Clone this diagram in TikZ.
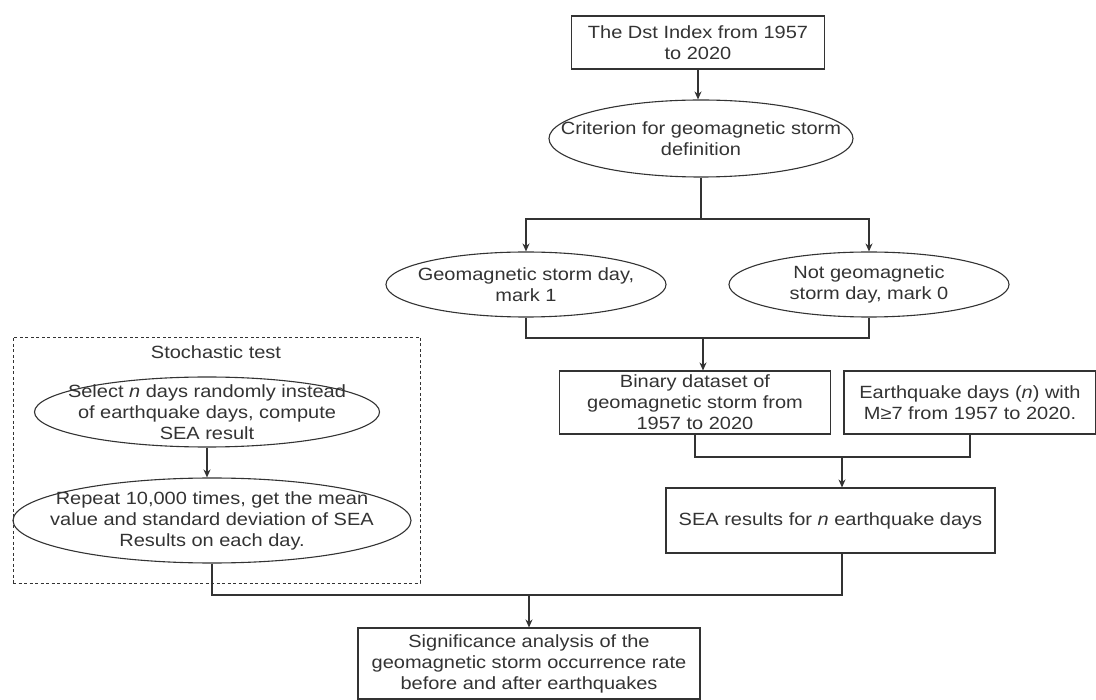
\documentclass[tikz,border=0pt]{standalone}
\usepackage{fontspec}
\setmainfont{Liberation Sans}[FakeStretch=1.13]
\usetikzlibrary{shapes.geometric,arrows.meta}
\definecolor{ink}{HTML}{333333}
\begin{document}
\begin{tikzpicture}[x=1pt,y=-1pt,
  font=\fontsize{17.7}{21}\selectfont,
  box/.style={draw=ink, line width=1.1pt, rectangle, align=center, text=ink, inner sep=0pt},
  ell/.style={draw=ink, line width=1.1pt, ellipse, inner sep=0pt},
  txt/.style={align=center, text=ink, inner sep=0pt},
  link/.style={draw=ink, line width=1.1pt},
  arr/.style={link, -{Stealth[length=8pt,width=7pt]}}]
\useasboundingbox (0,0) rectangle (1096,700);

% top
\node[box, minimum width=253pt, minimum height=53pt] (dst) at (698,42.5) {The Dst Index from 1957\\to 2020};
\node[ell, minimum width=304pt, minimum height=77pt] (crit) at (701,138.5) {};
\node[txt] (critt) at (crit.center) {Criterion for geomagnetic storm\\definition};

\node[ell, minimum width=280pt, minimum height=65pt] (geo) at (526,284.5) {};
\node[txt] (geot) at (geo.center) {Geomagnetic storm day,\\mark 1};
\node[ell, minimum width=280pt, minimum height=65pt] (notgeo) at (869,284.5) {};
\node[txt] (notgeot) at (notgeo.center) {Not geomagnetic\\storm day, mark 0};

\node[box, minimum width=271pt, minimum height=63pt] (bin) at (695,402.5) {Binary dataset of\\geomagnetic storm from\\1957 to 2020};
\node[box, minimum width=252pt, minimum height=63pt] (eq) at (970,402.5) {Earthquake days (\textit{n}) with\\M≥7 from 1957 to 2020.};
\node[box, minimum width=329pt, minimum height=65pt] (sea) at (830.5,520.5) {SEA results for \textit{n} earthquake days};

% stochastic test
\node[draw=ink, dash pattern=on 3pt off 2.5pt, line width=0.9pt, minimum width=407pt, minimum height=246pt, inner sep=0pt] (stoch) at (216.5,460) {};
\node[txt] (stocht) at (216,352) {Stochastic test};
\node[ell, minimum width=345pt, minimum height=70pt] (sel) at (207,412) {};
\node[txt] (selt) at (sel.center) {Select \textit{n} days randomly instead\\of earthquake days, compute\\SEA result};
\node[ell, minimum width=398pt, minimum height=85pt] (rep) at (212,520.5) {};
\node[txt] (rept) at (rep.center) {Repeat 10,000 times, get the mean\\value and standard deviation of SEA\\Results on each day.};

\node[box, minimum width=342pt, minimum height=71pt] (sig) at (529,663.5) {Significance analysis of the\\geomagnetic storm occurrence rate\\before and after earthquakes};

% connectors
\draw[arr] (dst.south) -- (dst.south |- crit.north);
\coordinate (j1) at (701,219);
\draw[link] (crit.south) -- (j1);
\draw[arr] (j1) -| (geo.north);
\draw[arr] (j1) -| (notgeo.north);

\coordinate (j2) at (703,338);
\draw[link] (geo.south) |- (j2);
\draw[link] (notgeo.south) |- (j2);
\draw[arr] (j2) -- (j2 |- bin.north);

\coordinate (j3) at (842,457);
\draw[link] (bin.south) |- (j3);
\draw[link] (eq.south) |- (j3);
\draw[arr] (j3) -- (j3 |- sea.north);

\coordinate (j4) at (529,595);
\draw[arr] (sel.south) -- (sel.south |- rep.north);
\draw[link] (rep.south) |- (j4);
\draw[link] (j3 |- sea.south) |- (j4);
\draw[arr] (j4) -- (sig.north);
\end{tikzpicture}
\end{document}
